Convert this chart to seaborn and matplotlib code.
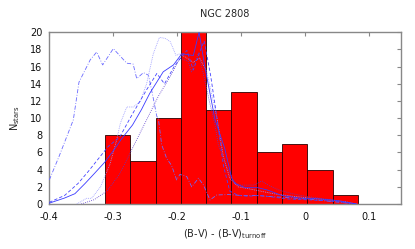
import numpy as np
import pandas as pd
import matplotlib
matplotlib.use("Agg")
import matplotlib.pyplot as plt
import seaborn as sns

# ---- data ----
bin_edges = [-0.313, -0.2735, -0.234, -0.1945, -0.155, -0.1155, -0.076, -0.0365, 0.003, 0.0425, 0.082]
counts = [8, 5, 10, 20, 11, 13, 6, 7, 4, 1]

solid_x = [-0.400, -0.376, -0.360, -0.344, -0.329, -0.313, -0.297, -0.287, -0.270, -0.256, -0.243,
           -0.222, -0.206, -0.193, -0.175, -0.166, -0.157, -0.141, -0.126, -0.115, -0.110, -0.094,
           -0.074, -0.058, -0.037, -0.010, 0.020, 0.050, 0.080]
solid_y = [0.1, 0.7, 1.2, 2.4, 3.6, 4.9, 6.5, 7.6, 9.2, 11.0, 12.9,
           15.4, 16.2, 17.5, 17.3, 20.0, 16.0, 9.8, 6.5, 3.0, 2.4, 1.9,
           1.9, 1.6, 1.0, 0.7, 0.6, 0.4, 0.0]

dashed_x = [-0.400, -0.376, -0.355, -0.339, -0.323, -0.308, -0.290, -0.270, -0.248, -0.232, -0.220,
            -0.205, -0.195, -0.185, -0.175, -0.167, -0.158, -0.148, -0.138, -0.128, -0.118, -0.105,
            -0.090, -0.070, -0.050, -0.030, 0.000, 0.030, 0.060, 0.080]
dashed_y = [0.2, 1.0, 2.4, 3.8, 5.3, 6.7, 7.8, 10.5, 13.3, 15.2, 14.0,
            16.0, 17.0, 17.9, 15.6, 17.3, 19.0, 15.0, 10.0, 4.5, 1.5, 1.0,
            0.9, 1.0, 0.8, 0.6, 0.5, 0.4, 0.2, 0.0]

ldot_x = [-0.357, -0.342, -0.334, -0.320, -0.305, -0.295, -0.289, -0.279, -0.269, -0.258, -0.248,
          -0.2375, -0.228, -0.219, -0.211, -0.202, -0.196, -0.185, -0.175, -0.165, -0.154, -0.138,
          -0.128, -0.118, -0.105, -0.090, -0.070, -0.050, -0.020, 0.020, 0.060, 0.080]
ldot_y = [0.0, 0.66, 0.66, 2.0, 4.7, 7.4, 9.4, 11.3, 11.3, 11.9, 14.0,
          17.5, 19.4, 19.3, 18.9, 17.3, 17.5, 17.0, 16.5, 17.0, 15.4, 10.0,
          5.5, 3.0, 2.0, 1.8, 1.5, 1.2, 0.9, 0.6, 0.3, 0.0]

ddot_x = [-0.350, -0.330, -0.310, -0.290, -0.270, -0.250, -0.230, -0.210, -0.196, -0.183, -0.178,
          -0.167, -0.160, -0.150, -0.141, -0.136, -0.126, -0.113, -0.105, -0.090, -0.080, -0.068,
          -0.058, -0.040, -0.020, 0.000, 0.040, 0.080]
ddot_y = [0.0, 0.5, 1.5, 3.5, 6.5, 9.5, 12.5, 15.0, 17.0, 16.6, 15.4,
          17.6, 15.4, 12.0, 9.2, 6.9, 4.9, 2.8, 2.2, 2.2, 2.2, 2.7,
          2.2, 1.6, 1.2, 0.9, 0.5, 0.0]

dd_x = [-0.400, -0.385, -0.3625, -0.3536, -0.336, -0.326, -0.3166, -0.300, -0.279, -0.269, -0.2634,
        -0.253, -0.245, -0.2375, -0.232, -0.2297, -0.2244, -0.2166, -0.209, -0.201, -0.196, -0.1853,
        -0.1775, -0.167, -0.159, -0.149, -0.1384, -0.120, -0.100, -0.080, -0.060, -0.040, -0.020,
        0.000, 0.040, 0.080]
dd_y = [2.8, 5.5, 9.8, 14.2, 16.8, 17.7, 16.2, 18.1, 16.4, 16.3, 14.6,
        15.3, 15.0, 12.3, 10.2, 10.0, 6.9, 5.3, 4.5, 2.8, 3.45, 3.2,
        2.0, 3.0, 2.2, 0.47, 1.05, 1.1, 1.0, 1.0, 0.9, 0.8, 0.7,
        0.6, 0.3, 0.0]

title = "NGC 2808"
xticks = [-0.4, -0.3, -0.2, -0.1, 0, 0.1]
xtick_labels = ["-0.4", "-0.3", "-0.2", "-0.1", "0", "0.1"]
yticks = list(range(0, 21, 2))

# ---- plot ----
sns.set_style("white")
plt.rcParams['font.family'] = ['DejaVu Sans']
fig = plt.figure(figsize=(4.15, 2.49), dpi=100)
ax = fig.add_axes([0.1188, 0.1807, 0.8467, 0.6896])

centers = [(bin_edges[i] + bin_edges[i + 1]) / 2 for i in range(len(counts))]
sns.histplot(x=centers, weights=counts, bins=bin_edges, ax=ax, color="#ff0000", alpha=1.0,
             edgecolor="#2a0000", linewidth=0.6, zorder=2)

def draw(xs, ys, color, ls, lw):
    df = pd.DataFrame({"x": xs, "y": ys})
    sns.lineplot(data=df, x="x", y="y", ax=ax, color=color, linestyle=ls, linewidth=lw,
                 sort=False, estimator=None, zorder=3)

draw(dd_x, dd_y, "#6a6aff", (0, (5, 2, 1, 2)), 0.6)
draw(ldot_x, ldot_y, "#9a9aff", (0, (1, 1.2)), 0.6)
draw(ddot_x, ddot_y, "#5a3acc", (0, (1, 1.5)), 0.6)
draw(dashed_x, dashed_y, "#4444ff", (0, (4, 2.5)), 0.6)
draw(solid_x, solid_y, "#3a3aff", "-", 0.6)

ax.set_xlim(-0.4, 0.149)
ax.set_ylim(0, 20)
ax.set_xticks(xticks)
ax.set_xticklabels(xtick_labels)
ax.set_yticks(yticks)
ax.tick_params(direction="in", length=3, width=0.8, color="#888888", labelsize=7,
               top=True, right=True, labelcolor="#111111", pad=5)
ax.tick_params(axis="x", pad=6)
for s in ax.spines.values():
    s.set_color("#888888")
    s.set_linewidth(1.0)
ax.set_title(title, fontsize=7, pad=11)
ax.set_xlabel(r"(B-V) - (B-V)$_{\rm turnoff}$", fontsize=7, labelpad=4)
ax.set_ylabel(r"N$_{\rm stars}$", fontsize=7, labelpad=6)

fig.savefig("out.png", dpi=100)
